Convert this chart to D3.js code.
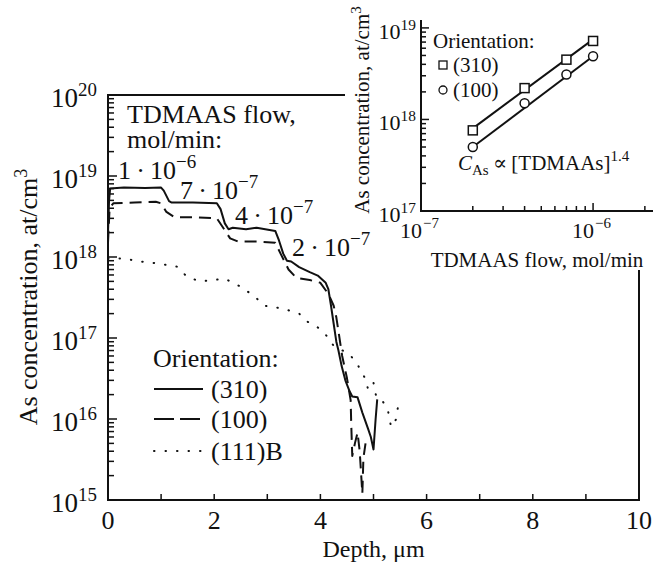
<!DOCTYPE html>
<html lang="en">
<head>
<meta charset="utf-8">
<title>As concentration vs depth</title>
<script src="https://cdn.jsdelivr.net/npm/d3@7"></script>
<style>
  body { margin: 0; background: #fff; }
  svg, svg text { font-family: "Liberation Serif", "Times New Roman", Tinos, "DejaVu Serif", serif; }
  svg text { fill: #111; }
  .line { fill: none; stroke: #111; stroke-width: 2px; stroke-linejoin: round; }
  .axis-line { stroke: #111; stroke-width: 2px; fill: none; }
  .tick { stroke: #111; stroke-width: 1.5px; }
</style>
</head>
<body>
<div id="chart"></div>
<script>
// ---- main plot data (depth in um, concentration in at/cm3) ----
var depth310 = [0.0, 0.02, 0.04, 0.3, 0.7, 1.0, 1.05, 1.15, 1.2, 1.6, 2.05, 2.12, 2.2, 2.27, 2.35, 2.6, 2.8, 3.15, 3.22, 3.3, 3.37, 3.45, 3.6, 3.8, 3.95, 4.1, 4.15, 4.2, 4.25, 4.3, 4.34, 4.4, 4.47, 4.55, 4.6, 4.7, 4.79, 4.9, 4.95, 5.0, 5.04, 5.07];
var conc310 = [2.0e18, 5e18, 7.0e18, 7.2e18, 7.1e18, 7.2e18, 6.6e18, 4.9e18, 4.7e18, 4.7e18, 4.6e18, 3.9e18, 2.6e18, 2.2e18, 2.3e18, 2.2e18, 2.3e18, 2.1e18, 1.6e18, 1.1e18, 9e17, 8.8e17, 7.5e17, 6.5e17, 5.9e17, 4.8e17, 4.0e17, 2.5e17, 1.5e17, 9e16, 7e16, 4.5e16, 3e16, 2.2e16, 1.9e16, 1.85e16, 1.2e16, 7.5e15, 6e15, 4.2e15, 1e16, 1.75e16];

var depth100 = [0.0, 0.03, 0.1, 0.5, 0.9, 1.0, 1.1, 1.25, 1.6, 2.05, 2.15, 2.3, 2.45, 2.8, 3.15, 3.25, 3.4, 3.55, 3.8, 4.0, 4.15, 4.25, 4.3, 4.35, 4.41, 4.5, 4.57, 4.58, 4.6, 4.65, 4.7, 4.74, 4.79, 4.81, 4.85];
var conc100 = [1.5e18, 4.0e18, 4.6e18, 4.7e18, 4.8e18, 4.6e18, 3.6e18, 3.1e18, 3.1e18, 3.0e18, 2.4e18, 1.7e18, 1.55e18, 1.55e18, 1.5e18, 1.1e18, 7e17, 5.5e17, 5.2e17, 4.8e17, 3.5e17, 2.5e17, 1.8e17, 1.1e17, 6e16, 3.2e16, 1.7e16, 9e15, 3.5e15, 5e15, 6.8e15, 4e15, 1.2e15, 3.3e15, 5e15];

var depth111 = [0.0, 0.3, 0.55, 0.9, 1.3, 1.5, 1.75, 2.2, 2.5, 2.75, 2.95, 3.3, 3.6, 3.75, 3.95, 4.1, 4.25, 4.55, 4.7, 4.85, 4.9, 5.0, 5.05, 5.15, 5.27, 5.33, 5.42, 5.46];
var conc111 = [9.5e17, 9.6e17, 8.9e17, 8.4e17, 7.6e17, 5.6e17, 5.0e17, 5.4e17, 4.3e17, 3.3e17, 2.5e17, 2.3e17, 2.0e17, 1.6e17, 1.35e17, 1.1e17, 8e16, 6.3e16, 4.7e16, 3.1e16, 2.3e16, 2.8e16, 1.9e16, 1.75e16, 1.3e16, 8e15, 9.8e15, 1.4e16];

var xTicks = [0, 2, 4, 6, 8, 10];
var xMinor = [1, 3, 5, 7, 9];
var yExps = [15, 16, 17, 18, 19, 20];

// ---- inset data ----
var flowRates = [2e-7, 4e-7, 7e-7, 1e-6];
var inset310 = [7.6e17, 2.2e18, 4.5e18, 7.2e18];
var inset100 = [5.0e17, 1.5e18, 3.1e18, 4.9e18];
var fitFlow = [2e-7, 1e-6];
var fit310 = [8.0e17, 7.5e18];
var fit100 = [5.0e17, 4.9e18];
var insetXExps = [-7, -6];
var insetYExps = [17, 18, 19];

var W = 661, H = 568;
var FONT = "'Liberation Serif', 'Times New Roman', Tinos, 'DejaVu Serif', serif";

var svg = d3.select("#chart").append("svg")
  .attr("width", W)
  .attr("height", H)
  .attr("font-family", FONT)
  .attr("viewBox", "0 0 " + W + " " + H);

svg.append("rect").attr("width", W).attr("height", H).attr("fill", "#fff");

// helper: "10" with superscript exponent
function powLabel(g, x, y, exp, size, anchor) {
  var t = g.append("text")
    .attr("x", x).attr("y", y)
    .attr("text-anchor", anchor || "start")
    .style("font-size", size + "px");
  t.append("tspan").text("10");
  t.append("tspan")
    .attr("dy", -size * 0.42)
    .style("font-size", (size * 0.7) + "px")
    .text(exp < 0 ? "\u2212" + (-exp) : exp);
  return t;
}

// =========== main plot ===========
var x = d3.scaleLinear().domain([0, 10]).range([108, 639]);
var y = d3.scaleLog().domain([1e15, 1e20]).range([500, 95]);

var main = svg.append("g");

// axes frame: left, bottom, partial top, partial right
main.append("line").attr("class", "axis-line")
  .attr("x1", x(0)).attr("x2", x(0)).attr("y1", y(1e15) + 1).attr("y2", y(1e20));
main.append("line").attr("class", "axis-line")
  .attr("x1", x(0) - 1).attr("x2", x(10) + 1).attr("y1", y(1e15)).attr("y2", y(1e15));
main.append("line").attr("class", "axis-line")
  .attr("x1", x(0) - 1).attr("x2", 345).attr("y1", y(1e20)).attr("y2", y(1e20));
main.append("line").attr("class", "axis-line")
  .attr("x1", x(10)).attr("x2", x(10)).attr("y1", y(1e15)).attr("y2", 270);

// x ticks (inward)
xTicks.concat(xMinor).forEach(function (d) {
  if (d === 0 || d === 10) return;
  main.append("line").attr("class", "tick")
    .attr("x1", x(d)).attr("x2", x(d))
    .attr("y1", y(1e15)).attr("y2", y(1e15) - 6);
});
xTicks.forEach(function (d) {
  main.append("text")
    .attr("x", x(d)).attr("y", 529)
    .attr("text-anchor", "middle")
    .style("font-size", "26px")
    .text(d);
});

// y ticks (inward), major + minor
yExps.forEach(function (e, i) {
  var v = Math.pow(10, e);
  main.append("line").attr("class", "tick")
    .attr("x1", x(0)).attr("x2", x(0) + 9)
    .attr("y1", y(v)).attr("y2", y(v));
  if (i < yExps.length - 1) {
    d3.range(2, 10).forEach(function (m) {
      main.append("line").attr("class", "tick")
        .attr("x1", x(0)).attr("x2", x(0) + 6)
        .attr("y1", y(m * v)).attr("y2", y(m * v));
    });
  }
  powLabel(main, 97, y(v) + 12, e, 27, "end");
});

// axis titles
main.append("text")
  .attr("x", (x(0) + x(10)) / 2).attr("y", 557)
  .attr("text-anchor", "middle")
  .style("font-size", "24px")
  .text("Depth, \u03bcm");

var yt = main.append("text")
  .attr("transform", "translate(37," + 297 + ") rotate(-90)")
  .attr("text-anchor", "middle")
  .style("font-size", "26px");
yt.append("tspan").text("As concentration, at/cm");
yt.append("tspan").attr("dy", -10).style("font-size", "18px").text("3");

// curves
function lineOf(xs, ys) {
  return d3.line()
    .x(function (d, i) { return x(xs[i]); })
    .y(function (d, i) { return y(ys[i]); })(xs);
}

main.append("path").attr("class", "line")
  .attr("d", lineOf(depth310, conc310));
main.append("path").attr("class", "line")
  .attr("d", lineOf(depth100, conc100))
  .attr("stroke-dasharray", "12,7");
main.append("path").attr("class", "line")
  .attr("d", lineOf(depth111, conc111))
  .attr("stroke-width", 2.4)
  .attr("stroke-linecap", "round")
  .attr("stroke-dasharray", "0.5,11");

// flow annotations
main.append("text").attr("x", 127).attr("y", 123).style("font-size", "26px").text("TDMAAS flow,");
main.append("text").attr("x", 127).attr("y", 148).style("font-size", "26px").text("mol/min:");

function flowLabel(xp, yp, mant, exp) {
  var t = main.append("text").attr("x", xp).attr("y", yp).style("font-size", "26px");
  t.append("tspan").text(mant + "\u2009\u00b7\u200910");
  t.append("tspan").attr("dy", -11).style("font-size", "19px").text("\u2212" + (-exp));
}
flowLabel(118, 179, "1", -6);
flowLabel(180, 199, "7", -7);
flowLabel(235, 224, "4", -7);
flowLabel(292, 256, "2", -7);

// legend
main.append("text").attr("x", 153).attr("y", 367).style("font-size", "26px").text("Orientation:");
var legendItems = [
  { label: "(310)", dash: null, y: 389 },
  { label: "(100)", dash: "20,6", y: 419 },
  { label: "(111)B", dash: "0.5,11", y: 451 }
];
legendItems.forEach(function (d) {
  var l = main.append("line").attr("class", "line")
    .attr("x1", 154).attr("x2", 203)
    .attr("y1", d.y).attr("y2", d.y);
  if (d.dash) l.attr("stroke-dasharray", d.dash);
  if (d.label === "(111)B") l.attr("stroke-linecap", "round").attr("stroke-width", 2.4);
  main.append("text").attr("x", 211).attr("y", d.y + 9).style("font-size", "26px").text(d.label);
});

// =========== inset ===========
var ix = d3.scaleLog().domain([1e-7, 2.23e-6]).range([421, 653]);
var iy = d3.scaleLog().domain([1e17, 1.22e19]).range([211, 20]);
var inset = svg.append("g");

inset.append("line").attr("class", "axis-line")
  .attr("x1", ix(1e-7)).attr("x2", ix(1e-7)).attr("y1", iy(1e17) + 1).attr("y2", iy(1.22e19));
inset.append("line").attr("class", "axis-line")
  .attr("x1", ix(1e-7) - 1).attr("x2", ix(2.23e-6)).attr("y1", iy(1e17)).attr("y2", iy(1e17));

// inset x ticks
[2e-7, 3e-7, 4e-7, 5e-7, 6e-7, 7e-7, 8e-7, 9e-7, 1e-6, 2e-6].forEach(function (d) {
  inset.append("line").attr("class", "tick")
    .attr("x1", ix(d)).attr("x2", ix(d))
    .attr("y1", iy(1e17)).attr("y2", iy(1e17) - (d === 1e-6 ? 8 : 5));
});
insetXExps.forEach(function (e) {
  inset.append("text").attr("x", ix(Math.pow(10, e)) + 1).attr("y", 238)
    .attr("text-anchor", "end").style("font-size", "22px").text("10");
  inset.append("text").attr("x", ix(Math.pow(10, e)) + 2).attr("y", 228)
    .style("font-size", "15px").text("\u2212" + (-e));
});

// inset y ticks
insetYExps.forEach(function (e, i) {
  var v = Math.pow(10, e);
  inset.append("line").attr("class", "tick")
    .attr("x1", ix(1e-7)).attr("x2", ix(1e-7) + 8)
    .attr("y1", iy(v)).attr("y2", iy(v));
  if (i < insetYExps.length - 1) {
    d3.range(2, 10).forEach(function (m) {
      inset.append("line").attr("class", "tick")
        .attr("x1", ix(1e-7)).attr("x2", ix(1e-7) + 5)
        .attr("y1", iy(m * v)).attr("y2", iy(m * v));
    });
  }
  powLabel(inset, 416, iy(v) + 11, e, 22, "end");
});

// inset titles
inset.append("text")
  .attr("x", 537).attr("y", 267)
  .attr("text-anchor", "middle")
  .style("font-size", "21px")
  .text("TDMAAS flow, mol/min");
var iyt = inset.append("text")
  .attr("transform", "translate(369," + 110 + ") rotate(-90)")
  .attr("text-anchor", "middle")
  .style("font-size", "21px");
iyt.append("tspan").text("As concentration, at/cm");
iyt.append("tspan").attr("dy", -8).style("font-size", "15px").text("3");

// fit lines
[fit310, fit100].forEach(function (f) {
  inset.append("line").attr("class", "line")
    .attr("x1", ix(fitFlow[0])).attr("y1", iy(f[0]))
    .attr("x2", ix(fitFlow[1])).attr("y2", iy(f[1]));
});

// markers
var sq = 9;
inset.selectAll(".sq").data(flowRates).enter().append("rect")
  .attr("x", function (d) { return ix(d) - sq / 2; })
  .attr("y", function (d, i) { return iy(inset310[i]) - sq / 2; })
  .attr("width", sq).attr("height", sq)
  .attr("fill", "#fff").attr("stroke", "#111").attr("stroke-width", 1.5);
inset.selectAll(".ci").data(flowRates).enter().append("circle")
  .attr("cx", function (d) { return ix(d); })
  .attr("cy", function (d, i) { return iy(inset100[i]); })
  .attr("r", 4.5)
  .attr("fill", "#fff").attr("stroke", "#111").attr("stroke-width", 1.5);

// inset legend
inset.append("text").attr("x", 433).attr("y", 48).style("font-size", "21px").text("Orientation:");
inset.append("rect").attr("x", 439).attr("y", 61).attr("width", 8).attr("height", 8)
  .attr("fill", "#fff").attr("stroke", "#111").attr("stroke-width", 1.3);
inset.append("text").attr("x", 453).attr("y", 72).style("font-size", "21px").text("(310)");
inset.append("circle").attr("cx", 443).attr("cy", 90).attr("r", 4)
  .attr("fill", "#fff").attr("stroke", "#111").attr("stroke-width", 1.3);
inset.append("text").attr("x", 453).attr("y", 97).style("font-size", "21px").text("(100)");

// power-law annotation
var ann = inset.append("text").attr("x", 458).attr("y", 170).style("font-size", "21px");
ann.append("tspan").style("font-style", "italic").text("C");
ann.append("tspan").attr("dy", 5).style("font-size", "15px").text("As");
ann.append("tspan").attr("dy", -5).text("\u2009\u221d\u2009[TDMAAs]");
ann.append("tspan").attr("dy", -9).style("font-size", "15px").text("1.4");
</script>
</body>
</html>
